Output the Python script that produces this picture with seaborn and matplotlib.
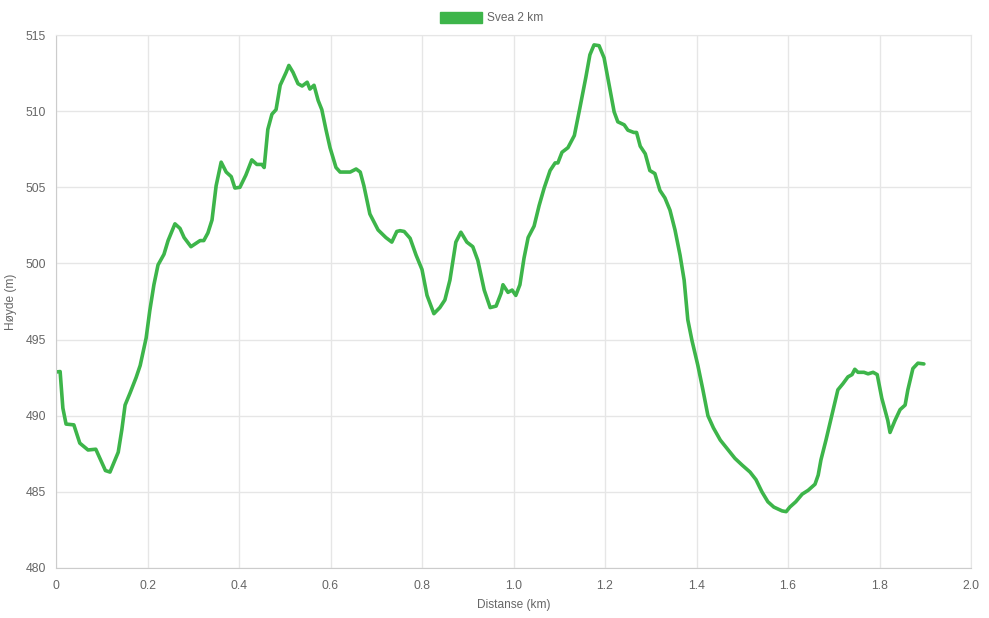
import pandas as pd
import matplotlib
matplotlib.use('Agg')
import matplotlib.pyplot as plt
import matplotlib.ticker as mticker
from matplotlib.patches import Patch
import seaborn as sns

# elevation profile
distance_km = [
    0.0, 0.009, 0.015, 0.022, 0.039, 0.052, 0.07, 0.087, 0.096, 0.108, 0.118,
    0.136, 0.144, 0.151, 0.162, 0.175, 0.184, 0.197, 0.205, 0.214, 0.223,
    0.236, 0.245, 0.26, 0.271, 0.28, 0.295, 0.315, 0.323, 0.332, 0.341,
    0.35, 0.361, 0.372, 0.383, 0.391, 0.402, 0.415, 0.428, 0.439, 0.45,
    0.455, 0.463, 0.472, 0.481, 0.49, 0.503, 0.509, 0.518, 0.529, 0.538,
    0.549, 0.555, 0.564, 0.573, 0.581, 0.59, 0.599, 0.612, 0.621, 0.643,
    0.656, 0.665, 0.673, 0.686, 0.704, 0.721, 0.734, 0.745, 0.752, 0.761,
    0.774, 0.787, 0.8, 0.811, 0.826, 0.839, 0.85, 0.861, 0.874, 0.885,
    0.898, 0.911, 0.922, 0.936, 0.949, 0.962, 0.973, 0.977, 0.988, 0.997,
    1.005, 1.014, 1.023, 1.032, 1.045, 1.056, 1.067, 1.08, 1.091, 1.097,
    1.106, 1.119, 1.133, 1.145, 1.158, 1.167, 1.176, 1.187, 1.198, 1.207,
    1.22, 1.228, 1.242, 1.25, 1.263, 1.269, 1.277, 1.288, 1.298, 1.309,
    1.32, 1.331, 1.342, 1.353, 1.364, 1.373, 1.381, 1.39, 1.403, 1.414,
    1.425, 1.437, 1.452, 1.468, 1.484, 1.5, 1.517, 1.53, 1.543, 1.556,
    1.569, 1.587, 1.596, 1.604, 1.617, 1.631, 1.644, 1.659, 1.666, 1.672,
    1.683, 1.696, 1.709, 1.72, 1.731, 1.74, 1.746, 1.753, 1.766, 1.775,
    1.786, 1.795, 1.805, 1.818, 1.823, 1.834, 1.845, 1.856, 1.862, 1.873,
    1.884, 1.897,
]
elevation_m = [
    492.87, 492.9, 490.5, 489.45, 489.4, 488.2, 487.75, 487.8, 487.2, 486.4, 486.3,
    487.6, 489.1, 490.7, 491.5, 492.5, 493.3, 495.1, 496.9, 498.6, 499.9,
    500.6, 501.5, 502.6, 502.3, 501.7, 501.1, 501.5, 501.5, 502.0, 502.85,
    505.1, 506.65, 506.0, 505.7, 504.95, 505.0, 505.8, 506.8, 506.5, 506.5,
    506.3, 508.8, 509.8, 510.1, 511.7, 512.55, 513.0, 512.55, 511.8, 511.65,
    511.9, 511.45, 511.7, 510.7, 510.1, 508.8, 507.6, 506.3, 506.0, 506.0,
    506.2, 506.0, 505.1, 503.25, 502.2, 501.7, 501.4, 502.1, 502.15, 502.1,
    501.65, 500.55, 499.6, 497.9, 496.7, 497.1, 497.6, 498.9, 501.4, 502.05,
    501.4, 501.1, 500.2, 498.25, 497.1, 497.2, 498.05, 498.6, 498.1, 498.25,
    497.9, 498.6, 500.35, 501.7, 502.45, 503.8, 504.95, 506.1, 506.6, 506.6,
    507.3, 507.6, 508.4, 510.2, 512.2, 513.7, 514.35, 514.3, 513.5, 512.05,
    509.95, 509.3, 509.1, 508.75, 508.6, 508.6, 507.7, 507.2, 506.1, 505.9,
    504.8, 504.3, 503.5, 502.2, 500.55, 498.9, 496.3, 494.95, 493.3, 491.7,
    490.0, 489.2, 488.4, 487.8, 487.2, 486.75, 486.3, 485.8, 485.0, 484.35,
    484.0, 483.75, 483.7, 484.0, 484.35, 484.85, 485.1, 485.5, 486.1, 487.1,
    488.4, 490.05, 491.7, 492.1, 492.55, 492.7, 493.05, 492.85, 492.85, 492.75,
    492.85, 492.7, 491.15, 489.7, 488.9, 489.7, 490.4, 490.7, 491.7, 493.1,
    493.45, 493.4,
]
series_label = 'Svea 2 km'
x_ticks = [0.0, 0.2, 0.4, 0.6, 0.8, 1.0, 1.2, 1.4, 1.6, 1.8, 2.0]
y_ticks = [480, 485, 490, 495, 500, 505, 510, 515]

df = pd.DataFrame({'Distanse (km)': distance_km, 'Høyde (m)': elevation_m})

sns.set_style('white')
plt.rcParams['font.family'] = ['Liberation Sans', 'DejaVu Sans']

line_color = '#3db54a'
grid_color = '#e6e6e6'
text_color = '#666666'

fig = plt.figure(figsize=(9.89, 6.18), dpi=100)
ax = fig.add_axes([56 / 989, 1 - 568 / 618, (971 - 56) / 989, (568 - 35) / 618])

sns.lineplot(data=df, x='Distanse (km)', y='Høyde (m)', ax=ax,
             color=line_color, linewidth=2.6, solid_joinstyle='round')

ax.set_xlim(0, 2.0)
ax.set_ylim(480, 515)
ax.set_xticks(x_ticks)
ax.set_yticks(y_ticks)
ax.xaxis.set_major_formatter(mticker.FuncFormatter(lambda v, p: '0' if v == 0 else f'{v:.1f}'))
ax.grid(True, color=grid_color, linewidth=1)
ax.tick_params(axis='both', length=5.8, width=1, color=grid_color,
               labelcolor=text_color, labelsize=8.8)
ax.tick_params(axis='y', pad=1.5)
ax.tick_params(axis='x', pad=3)

for side in ['top', 'right']:
    ax.spines[side].set_color(grid_color)
for side in ['left', 'bottom']:
    ax.spines[side].set_color('#cccccc')

ax.set_xlabel('Distanse (km)', color=text_color, fontsize=8.6, labelpad=5)
ax.set_ylabel('Høyde (m)', color=text_color, fontsize=8.6, labelpad=6)

handle = Patch(facecolor=line_color, edgecolor=line_color, label=series_label)
fig.legend(handles=[handle], loc='center', bbox_to_anchor=(0.497, 1 - 18 / 618),
           frameon=False, fontsize=8.6, handlelength=3.5, handleheight=1.15,
           handletextpad=0.4, labelcolor=text_color, borderaxespad=0.0)

fig.savefig('out.png', dpi=100)
